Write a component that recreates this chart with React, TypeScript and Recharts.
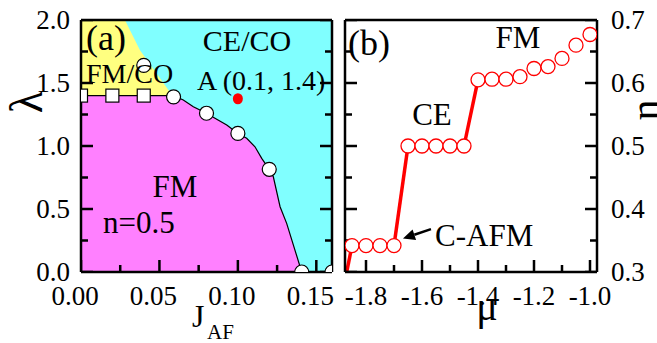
import React from 'react'
import { ComposedChart, Area, Line, Scatter, XAxis, YAxis, CartesianGrid, ReferenceLine } from 'recharts'

const SERIF = 'serif'
const TICK_COLOR = '#000'

// ---- panel (a): phase diagram ----
const boundaryJ = [0, 0.059, 0.0652, 0.0716, 0.08, 0.0854, 0.0929, 0.1, 0.1056, 0.1109, 0.1152, 0.12, 0.1226, 0.1269, 0.1311, 0.1407]
const boundaryLam = [1.4, 1.4, 1.365, 1.312, 1.26, 1.22, 1.167, 1.1, 1.061, 0.994, 0.902, 0.815, 0.756, 0.518, 0.386, 0]
const coJ = [0, 0.028, 0.0376, 0.0557, 0.059]
const coTop = [2.0, 2.0, 1.76, 1.444, 1.4]
const coBottom = 1.4
const squareJ = [0, 0.02, 0.04]
const squareLam = [1.4, 1.4, 1.4]
const circleJ = [0.04, 0.059, 0.08, 0.1, 0.12, 0.1407, 0.16]
const circleLam = [1.64, 1.39, 1.26, 1.1, 0.815, 0, 0]
const pointAJ = [0.1]
const pointALam = [1.375]

const jDomain = [0, 0.16]
const lamDomain = [0, 2]
const jTicks = [0, 0.025, 0.05, 0.075, 0.1, 0.125, 0.15]
const jMajor = [0, 0.05, 0.1, 0.15]
const jMinor = [0.025, 0.075, 0.125]
const lamTicks = [0, 0.25, 0.5, 0.75, 1, 1.25, 1.5, 1.75, 2]
const lamMajor = [0, 0.5, 1, 1.5, 2]
const lamMinor = [0.25, 0.75, 1.25, 1.75]

// ---- panel (b): n vs mu ----
const caMu = [-1.85, -1.8, -1.75, -1.7]
const caN = [0.342, 0.342, 0.342, 0.342]
const ceMu = [-1.65, -1.6, -1.55, -1.5, -1.45]
const ceN = [0.5, 0.5, 0.5, 0.5, 0.5]
const fmMu = [-1.4, -1.35, -1.3, -1.25, -1.2, -1.15, -1.1, -1.05, -1.0]
const fmN = [0.605, 0.606, 0.606, 0.61, 0.623, 0.626, 0.639, 0.66, 0.677]
const step1Mu = [-1.872, -1.85]
const step1N = [0.293, 0.342]
const step2Mu = [-1.7, -1.65]
const step2N = [0.342, 0.5]
const step3Mu = [-1.45, -1.4]
const step3N = [0.5, 0.605]
const arrowMu = [-1.568, -1.668]
const arrowN = [0.368, 0.353]

const muDomain = [-1.875, -0.975]
const nDomain = [0.3, 0.7]
const muTicks = [-1.8, -1.7, -1.6, -1.5, -1.4, -1.3, -1.2, -1.1, -1.0]
const muMajor = [-1.8, -1.6, -1.4, -1.2, -1.0]
const muMinor = [-1.7, -1.5, -1.3, -1.1]
const nTicks = [0.3, 0.35, 0.4, 0.45, 0.5, 0.55, 0.6, 0.65, 0.7]
const nMajor = [0.3, 0.4, 0.5, 0.6, 0.7]
const nMinor = [0.35, 0.45, 0.55, 0.65]

const zip = (xs: number[], ys: any[], kx: string, ky: string) => xs.map((x, i) => ({ [kx]: x, [ky]: ys[i] }))
const along = (xs: number[], y: number, kx: string, ky: string) => xs.map(x => ({ [kx]: x, [ky]: y }))
const across = (x: number, ys: number[], kx: string, ky: string) => ys.map(y => ({ [kx]: x, [ky]: y }))

const fmArea = zip(boundaryJ, boundaryLam, 'j', 'lam')
const coArea = zip(coJ, coTop.map(t => [coBottom, t]), 'j', 'lam')
const squares = zip(squareJ, squareLam, 'j', 'lam')
const circles = zip(circleJ, circleLam, 'j', 'lam')
const pointA = zip(pointAJ, pointALam, 'j', 'lam')
const nPoints = zip([...caMu, ...ceMu, ...fmMu], [...caN, ...ceN, ...fmN], 'mu', 'n')
const step1 = zip(step1Mu, step1N, 'mu', 'n')
const step2 = zip(step2Mu, step2N, 'mu', 'n')
const step3 = zip(step3Mu, step3N, 'mu', 'n')

// tick anchors sitting on the frame (drawn inward by scatter shapes)
const aBotMaj = along(jMajor, lamDomain[0], 'j', 'lam')
const aBotMin = along(jMinor, lamDomain[0], 'j', 'lam')
const aLeftMaj = across(jDomain[0], lamMajor, 'j', 'lam')
const aLeftMin = across(jDomain[0], lamMinor, 'j', 'lam')
const aRightMaj = across(jDomain[1], lamMajor, 'j', 'lam')
const aRightMin = across(jDomain[1], lamMinor, 'j', 'lam')
const bBotMaj = along(muMajor, nDomain[0], 'mu', 'n')
const bBotMin = along(muMinor, nDomain[0], 'mu', 'n')
const bLeftMaj = across(muDomain[0], nMajor, 'mu', 'n')
const bLeftMin = across(muDomain[0], nMinor, 'mu', 'n')
const bRightMaj = across(muDomain[1], nMajor, 'mu', 'n')
const bRightMin = across(muDomain[1], nMinor, 'mu', 'n')

const MAJ = 12
const MIN = 7
const TW = 2.5
const BotMaj = (p: any) => <rect x={p.cx - TW / 2} y={p.cy - MAJ} width={TW} height={MAJ} fill={TICK_COLOR} />
const BotMin = (p: any) => <rect x={p.cx - TW / 2} y={p.cy - MIN} width={TW} height={MIN} fill={TICK_COLOR} />
const LeftMaj = (p: any) => <rect x={p.cx} y={p.cy - TW / 2} width={MAJ} height={TW} fill={TICK_COLOR} />
const LeftMin = (p: any) => <rect x={p.cx} y={p.cy - TW / 2} width={MIN} height={TW} fill={TICK_COLOR} />
const RightMaj = (p: any) => <rect x={p.cx - MAJ} y={p.cy - TW / 2} width={MAJ} height={TW} fill={TICK_COLOR} />
const RightMin = (p: any) => <rect x={p.cx - MIN} y={p.cy - TW / 2} width={MIN} height={TW} fill={TICK_COLOR} />

const TICK_FONT = 27
const isIn = (list: number[], v: number) => list.some(m => Math.abs(m - v) < 1e-9)

function makeLabel(side: 'bottom' | 'left' | 'right', major: number[], digits: number, dx = 0) {
  return (props: any) => {
    const { x, y, payload } = props
    const v = payload.value
    if (!isIn(major, v)) return <g />
    const txt = v.toFixed(digits)
    if (side === 'bottom') {
      return <text x={x + dx} y={y + 25} textAnchor="middle" fontFamily={SERIF} fontSize={TICK_FONT} fill="#000">{txt}</text>
    }
    if (side === 'left') {
      return <text x={x - 3} y={y + 9} textAnchor="end" fontFamily={SERIF} fontSize={TICK_FONT} fill="#000">{txt}</text>
    }
    return <text x={x + 6} y={y + 9} textAnchor="start" fontFamily={SERIF} fontSize={TICK_FONT} fill="#000">{txt}</text>
  }
}

const OpenCircle = (stroke: string, sw: number) => (p: any) => (
  <circle cx={p.cx} cy={p.cy} r={7} fill="#fff" stroke={stroke} strokeWidth={sw} />
)
const BlackCircle = OpenCircle('#000', 1.2)
const RedCircle = OpenCircle('#ff0000', 1.3)
const OpenSquare = (p: any) => (
  <rect x={p.cx - 6.5} y={p.cy - 6.5} width={13} height={13} fill="#fff" stroke="#000" strokeWidth={1.2} />
)
const RedDot = (p: any) => <ellipse cx={p.cx} cy={p.cy} rx={5} ry={5.5} fill="#ff0000" />

const ArrowShape = (p: any) => {
  const { x1, y1, x2, y2 } = p
  const ang = Math.atan2(y2 - y1, x2 - x1)
  const L = 12
  const W = 5.5
  const bx = x2 - L * Math.cos(ang)
  const by = y2 - L * Math.sin(ang)
  const px = -Math.sin(ang) * W
  const py = Math.cos(ang) * W
  return (
    <g>
      <line x1={x1} y1={y1} x2={bx} y2={by} stroke="#000" strokeWidth={2.5} />
      <polygon points={`${x2},${y2} ${bx + px},${by + py} ${bx - px},${by - py}`} fill="#000" />
    </g>
  )
}

const BORDER = { stroke: '#000', strokeWidth: 2.5 }

function PanelA() {
  return (
    <ComposedChart width={340} height={343} margin={{ top: 20, right: 8, bottom: 0, left: 0 }}>
      <CartesianGrid fill="#80ffff" fillOpacity={1} horizontal={false} vertical={false} />
      <Area data={coArea} dataKey="lam" type="linear" fill="#ffff80" fillOpacity={1} stroke="none" isAnimationActive={false} />
      <Area data={fmArea} dataKey="lam" type="linear" fill="#ff80ff" fillOpacity={1} stroke="#000" strokeWidth={1.2} isAnimationActive={false} />
      <Scatter data={aBotMaj} shape={BotMaj} isAnimationActive={false} />
      <Scatter data={aBotMin} shape={BotMin} isAnimationActive={false} />
      <Scatter data={aLeftMaj} shape={LeftMaj} isAnimationActive={false} />
      <Scatter data={aLeftMin} shape={LeftMin} isAnimationActive={false} />
      <Scatter data={aRightMaj} shape={RightMaj} isAnimationActive={false} />
      <Scatter data={aRightMin} shape={RightMin} isAnimationActive={false} />
      <Scatter data={pointA} shape={RedDot} isAnimationActive={false} />
      <Scatter data={squares} shape={OpenSquare} isAnimationActive={false} />
      <Scatter data={circles} shape={BlackCircle} isAnimationActive={false} />
      <ReferenceLine y={lamDomain[1]} stroke="#000" strokeWidth={2.5} />
      <ReferenceLine x={jDomain[1]} stroke="#000" strokeWidth={2.5} />
      <XAxis dataKey="j" type="number" domain={jDomain} allowDataOverflow ticks={jTicks} interval={0}
        height={71} tickLine={false} axisLine={BORDER} tick={makeLabel('bottom', jMajor, 2, -6)} />
      <YAxis dataKey="lam" type="number" domain={lamDomain} allowDataOverflow ticks={lamTicks} interval={0}
        width={81} tickLine={false} axisLine={BORDER} tick={makeLabel('left', lamMajor, 1)} />
    </ComposedChart>
  )
}

function PanelB() {
  return (
    <ComposedChart width={317} height={343} margin={{ top: 20, right: 0, bottom: 0, left: 5 }}>
      <Scatter data={bBotMaj} shape={BotMaj} isAnimationActive={false} />
      <Scatter data={bBotMin} shape={BotMin} isAnimationActive={false} />
      <Scatter data={bLeftMaj} shape={LeftMaj} isAnimationActive={false} />
      <Scatter data={bLeftMin} shape={LeftMin} isAnimationActive={false} />
      <Scatter data={bRightMaj} shape={RightMaj} isAnimationActive={false} />
      <Scatter data={bRightMin} shape={RightMin} isAnimationActive={false} />
      <Line data={step1} dataKey="n" type="linear" stroke="#ff0000" strokeWidth={3.5} dot={false} isAnimationActive={false} />
      <Line data={step2} dataKey="n" type="linear" stroke="#ff0000" strokeWidth={3.5} dot={false} isAnimationActive={false} />
      <Line data={step3} dataKey="n" type="linear" stroke="#ff0000" strokeWidth={3.5} dot={false} isAnimationActive={false} />
      <Scatter data={nPoints} shape={RedCircle} isAnimationActive={false} />
      <ReferenceLine segment={[{ x: arrowMu[0], y: arrowN[0] }, { x: arrowMu[1], y: arrowN[1] }]} shape={ArrowShape} />
      <ReferenceLine y={nDomain[1]} stroke="#000" strokeWidth={2.5} />
      <ReferenceLine x={muDomain[0]} stroke="#000" strokeWidth={2.5} />
      <XAxis dataKey="mu" type="number" domain={muDomain} allowDataOverflow ticks={muTicks} interval={0}
        height={71} tickLine={false} axisLine={BORDER} tick={makeLabel('bottom', muMajor, 1)} />
      <YAxis dataKey="n" orientation="right" type="number" domain={nDomain} allowDataOverflow ticks={nTicks} interval={0}
        width={60} tickLine={false} axisLine={BORDER} tick={makeLabel('right', nMajor, 1)} />
    </ComposedChart>
  )
}

export default function App() {
  const t = { fontFamily: SERIF, fill: '#000' }
  return (
    <div style={{ position: 'absolute', left: 0, top: 0, width: 657, height: 343, background: '#fff', overflow: 'hidden' }}>
      <div style={{ position: 'absolute', left: 0, top: 0 }}>
        <PanelA />
      </div>
      <div style={{ position: 'absolute', left: 340, top: 0 }}>
        <PanelB />
      </div>
      <svg width={657} height={343} style={{ position: 'absolute', left: 0, top: 0, pointerEvents: 'none' }}>
        {/* panel (a) labels */}
        <text {...t} x={86} y={50} fontSize={36}>(a)</text>
        <text {...t} x={247} y={51} fontSize={30} textAnchor="middle">CE/CO</text>
        <text {...t} x={86} y={83} fontSize={28}>FM/CO</text>
        <text {...t} x={197} y={90} fontSize={28}>A (0.1, 1.4)</text>
        <text {...t} x={175} y={197} fontSize={31} textAnchor="middle">FM</text>
        <text {...t} x={103} y={233} fontSize={31}>n=0.5</text>
        {/* panel (b) labels */}
        <text {...t} x={348} y={55} fontSize={36}>(b)</text>
        <text {...t} x={518} y={48} fontSize={31} textAnchor="middle">FM</text>
        <text {...t} x={432} y={125} fontSize={31} textAnchor="middle">CE</text>
        <text {...t} x={435} y={246} fontSize={31}>C-AFM</text>
        {/* axis titles */}
        <text {...t} x={0} y={0} fontSize={46} textAnchor="middle" dominantBaseline="central" transform="translate(26,102) rotate(-90)">λ</text>
        <text {...t} x={192} y={327} fontSize={32}>J</text>
        <text {...t} x={207} y={339} fontSize={21}>AF</text>
        <text {...t} x={487} y={320} fontSize={40} textAnchor="middle">μ</text>
        <text {...t} x={0} y={0} fontSize={42} textAnchor="middle" dominantBaseline="central" transform="translate(645,110) rotate(-90)">n</text>
      </svg>
    </div>
  )
}
